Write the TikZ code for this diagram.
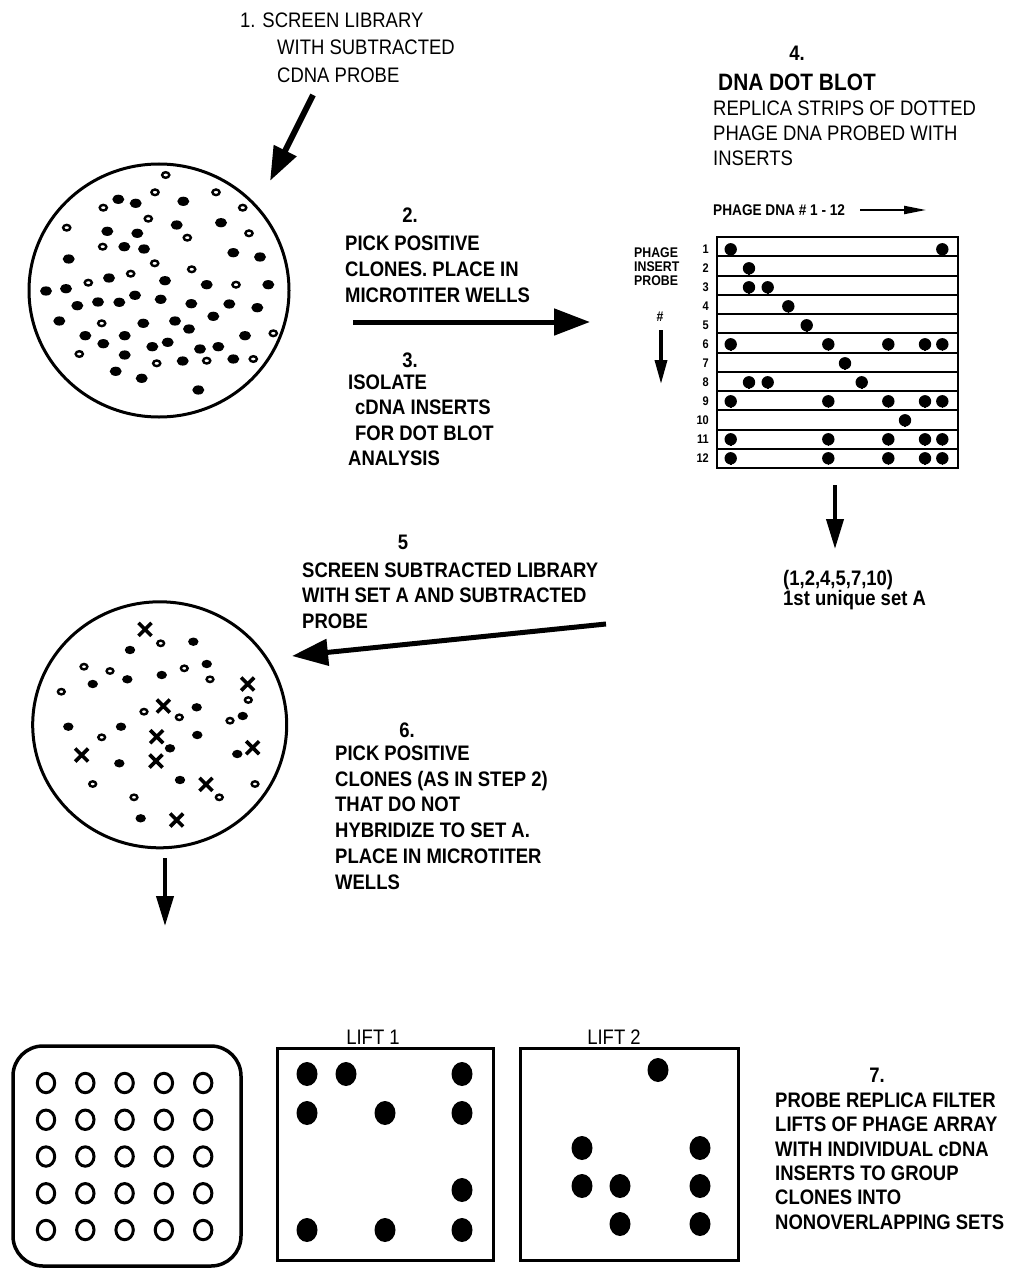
\documentclass[tikz,border=0pt]{standalone}
\usepackage{fontspec}
\setmainfont{Liberation Sans}[FakeStretch=0.88]
\usepackage{tikz}
\usetikzlibrary{arrows.meta, shapes.geometric}
\tikzset{>={Triangle[length=36pt,width=26pt]}}
\tikzset{
  steptext/.style={inner sep=0pt, align=left, anchor=north west, font=\fontsize{21}{25.5}\selectfont\bfseries},
  thintext/.style={inner sep=0pt, align=left, anchor=north west, font=\fontsize{21}{25}\selectfont},
  stepnum/.style={inner sep=0pt, anchor=north, font=\fontsize{21}{25}\selectfont\bfseries},
  smalltext/.style={inner sep=0pt, font=\fontsize{14}{13.7}\selectfont\bfseries},
  plate/.style={draw, ellipse, line width=3pt, inner sep=0pt},
  sheet/.style={draw, rectangle, line width=3pt, inner sep=0pt},
  colony/.style={fill=black},
  plaque/.style={draw=black, line width=2.4pt},
  bigarrow/.style={->, line width=5pt},
}

\begin{document}
\begin{tikzpicture}[x=1pt,y=-1pt]
    \useasboundingbox (0,0) rectangle (1011,1268);

    \node[thintext, font=\fontsize{21}{27.5}\selectfont] (step1) at (240,12.5) {
      1. SCREEN LIBRARY \\
      \hspace*{37pt}WITH SUBTRACTED \\
      \hspace*{37pt}CDNA PROBE
    };
    \coordinate (s1from) at (313,95);
    \coordinate (s1to) at (270,181);
    \draw[->, line width=6pt, >={Triangle[length=34pt,width=24pt]}] (s1from) -- (s1to);

    \node[plate, minimum width=260pt, minimum height=253pt] (plate1) at (159,290.5) {};
    \foreach \x/\y in {118.3/199.3, 135.7/203.3, 183.3/201.3, 221/222.7, 176.7/225, 107.3/231.3,
      137.3/233.3, 124.3/246.7, 144/249, 233.3/252.7, 260/257, 68.7/259, 46/291, 66/288.7,
      109/278, 165/280.7, 206.7/284.7, 268.3/284.7, 135/295.3, 119.3/302.3, 98/302, 77.3/305.7,
      160.7/299.3, 191.3/303.7, 229.3/304, 257.3/307.7, 59.3/321, 143.3/323.3, 175/321,
      213.3/316.3, 189/329, 85.3/335.7, 124.7/335.7, 245/335.7, 103.3/343.7, 152.3/346.7,
      167.7/342.3, 200/349, 218.3/346.7, 124.7/355, 182.7/361, 233.3/359, 115.7/371.3,
      141.7/378.3, 198.3/390}
      \fill[colony] (\x,\y) ellipse [x radius=6pt, y radius=4.6pt];
    \foreach \x/\y in {165.7/175, 155/192.3, 216/192.3, 103.3/207.7, 242.7/207.7, 148.3/218.7,
      66.7/227.7, 187.3/237.7, 249/233.3, 102.7/246.7, 154.7/263.3, 191.7/269.3, 130.7/273.7,
      88.3/282.7, 236/284.7, 101.7/323.3, 273.3/333.3, 79.3/354, 156.7/363.3, 206.7/360.7,
      253.3/359}
      \draw[plaque] (\x,\y) ellipse [x radius=3.6pt, y radius=2.8pt];

    \node[stepnum] (num2) at (410,207.5) {2.};
    \node[steptext, font=\fontsize{21}{26}\selectfont\bfseries] (step2) at (345,235.5) {
      PICK POSITIVE \\
      CLONES. PLACE IN \\
      MICROTITER WELLS
    };
    \coordinate (s2from) at (353,322);
    \coordinate (s2to) at (590,322);
    \draw[bigarrow] (s2from) -- (s2to);
    \node[stepnum] (num3) at (410,352.5) {3.};
    \node[steptext] (step3) at (348,374.5) {
      ISOLATE \\
      \hspace*{7pt}cDNA INSERTS \\
      \hspace*{7pt}FOR DOT BLOT \\
      ANALYSIS
    };

    \node[stepnum] (num4) at (797,45.5) {4.};
    \node[steptext, font=\fontsize{23.7}{25}\selectfont\bfseries] (dotblot) at (718,73.5) {DNA DOT BLOT};
    \node[thintext] (step4) at (713,100.5) {
      REPLICA STRIPS OF DOTTED \\
      PHAGE DNA PROBED WITH \\
      INSERTS
    };
    \node[smalltext, font=\fontsize{15.5}{16}\selectfont\bfseries, anchor=west] (phagedna) at (713,210) {PHAGE DNA \# 1 - 12};
    \coordinate (dnafrom) at (860,210);
    \coordinate (dnato) at (926,210);
    \draw[->, line width=2pt, >={Triangle[length=22pt,width=8pt]}] (dnafrom) -- (dnato);

    \node[smalltext, align=left, anchor=north west] (probeaxis) at (634,248) {
      PHAGE \\
      INSERT \\
      PROBE
    };
    \node[smalltext] (hash) at (660,317) {\#};
    \coordinate (probefrom) at (661,330);
    \coordinate (probeto) at (661,384);
    \draw[->, line width=3.5pt, >={Triangle[length=24pt,width=12pt]}] (probefrom) -- (probeto);

    \draw[line width=2.5pt] (717,237) rectangle (958,468);
    \foreach \k in {1,...,11}
      \draw[line width=2pt] (717,{237+19.25*\k}) -- (958,{237+19.25*\k});
    \foreach \r in {1,...,12}
      \node[smalltext, font=\fontsize{12.5}{13}\selectfont\bfseries, anchor=east] (row\r) at (709,{249.3+19*(\r-1)}) {\r};
    \foreach \r/\cols in {1/{730.7,942.3}, 2/{749}, 3/{749,767.7}, 4/{788.3}, 5/{806.7},
      6/{730.7,828.3,888.3,925,942.3}, 7/{845}, 8/{749,767.7,861.7},
      9/{730.7,828.3,888.3,925,942.3}, 10/{905}, 11/{730.7,828.3,888.3,925,942.3},
      12/{730.7,828.3,888.3,925,942.3}}
      \foreach \c in \cols {
        \fill (\c,{249.3+19*(\r-1)}) circle (6.2pt);
        \draw[line width=1.6pt] (\c,{249.3+19*(\r-1)}) -- (\c,{256+19*(\r-1)});
      };

    \coordinate (blotfrom) at (835,485);
    \coordinate (blotto) at (835,549);
    \draw[->, line width=4pt, >={Triangle[length=30pt,width=17pt]}] (blotfrom) -- (blotto);
    \node[thintext, font=\fontsize{21}{20}\selectfont\bfseries] (setA) at (783,570) {
      (1,2,4,5,7,10) \\
      1st unique set A
    };

    \node[stepnum] (num5) at (403,534.5) {5};
    \node[steptext] (step5) at (302,562.5) {
      SCREEN SUBTRACTED LIBRARY \\
      WITH SET A AND SUBTRACTED \\
      PROBE
    };
    \coordinate (s5from) at (606,624);
    \coordinate (s5to) at (292,656);
    \draw[bigarrow] (s5from) -- (s5to);

    \node[plate, minimum width=254pt, minimum height=246pt] (plate2) at (159.7,724.8) {};
    \foreach \x/\y in {193.3/641.7, 130/650, 206.7/664, 92.7/684, 127.3/679.3, 161.7/675,
      196.7/707.3, 68.3/726.7, 121/726.7, 197.3/735, 242.7/716, 170/748.3, 119.3/763.3,
      237.3/754, 180/780, 140.7/818.3}
      \fill[colony] (\x,\y) ellipse [x radius=5.2pt, y radius=4.2pt];
    \foreach \x/\y in {160.7/643.3, 84/666.7, 110/671, 184.3/668.3, 210/679.3, 61.3/691.7,
      248.3/700, 144/711.7, 179.3/717.3, 230/720.7, 101.7/737.3, 92.7/784, 134/797.3,
      219.3/797.3, 255/784}
      \draw[plaque] (\x,\y) ellipse [x radius=3.4pt, y radius=2.7pt];
    \foreach \x/\y in {145/629.3, 247.7/684, 163.3/706, 156.7/736.7, 81.7/755, 156/761,
      252.7/747.7, 206/784.3, 176.7/820}
      \draw[line width=3.6pt] ({\x-6.5},{\y-6.5}) -- ({\x+6.5},{\y+6.5})
        ({\x-6.5},{\y+6.5}) -- ({\x+6.5},{\y-6.5});

    \node[stepnum] (num6) at (407,722.5) {6.};
    \node[steptext, font=\fontsize{21}{25.8}\selectfont\bfseries] (step6) at (335,745.5) {
      PICK POSITIVE \\
      CLONES (AS IN STEP 2) \\
      THAT DO NOT \\
      HYBRIDIZE TO  SET A. \\
      PLACE IN MICROTITER \\
      WELLS
    };
    \coordinate (s6from) at (165,858);
    \coordinate (s6to) at (165,926);
    \draw[->, line width=4pt, >={Triangle[length=30pt,width=17pt]}] (s6from) -- (s6to);

    \node[sheet, rounded corners=30pt, line width=3.5pt, minimum width=228pt, minimum height=220pt] (tray) at (127,1156) {};
    \foreach \i in {0,...,4}
      \foreach \j in {0,...,4}
        \draw[line width=3pt] ({46+39.3*\i},{1083+36.75*\j}) ellipse [x radius=8.7pt, y radius=9.7pt];

    \node[sheet, minimum width=216pt, minimum height=212pt] (lift1) at (385,1154) {};
    \node[font=\fontsize{21}{21}\selectfont, inner sep=0pt] (lift1lab) at (373,1037) {LIFT 1};
    \foreach \x/\y in {307/1074, 346/1074, 462/1074, 307/1113, 385/1113, 462/1113,
      462/1190, 307/1230, 385/1230, 462/1230}
      \fill[colony] (\x,\y) ellipse [x radius=10.5pt, y radius=12pt];

    \node[sheet, minimum width=218pt, minimum height=212pt] (lift2) at (629,1154) {};
    \node[font=\fontsize{21}{21}\selectfont, inner sep=0pt] (lift2lab) at (614,1037) {LIFT 2};
    \foreach \x/\y in {658/1070, 582/1148, 700/1148, 582/1186, 620/1186, 700/1186,
      620/1224, 700/1224}
      \fill[colony] (\x,\y) ellipse [x radius=10.5pt, y radius=12pt];

    \node[stepnum] (num7) at (877,1067.5) {7.};
    \node[steptext, font=\fontsize{21}{24.4}\selectfont\bfseries] (step7) at (775,1092.5) {
      PROBE REPLICA FILTER \\
      LIFTS OF PHAGE ARRAY \\
      WITH INDIVIDUAL cDNA \\
      INSERTS TO GROUP \\
      CLONES INTO \\
      NONOVERLAPPING SETS
    };
  \end{tikzpicture}
\end{document}
